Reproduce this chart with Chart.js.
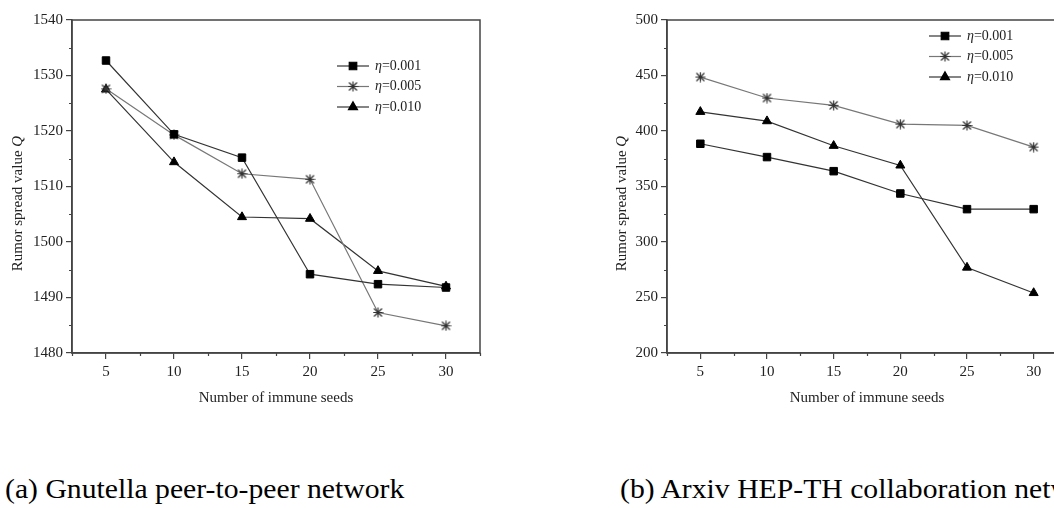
<!DOCTYPE html>
<html>
<head>
<meta charset="utf-8">
<script src="https://cdn.jsdelivr.net/npm/chart.js@4/dist/chart.umd.min.js"></script>
<style>
  html, body { margin: 0; padding: 0; background: #fff; }
  body { width: 1054px; height: 508px; position: relative; overflow: hidden; }
  canvas { position: absolute; top: 0; }
  #chartA { left: 0; }
  #chartB { left: 595px; }
  .caption { position: absolute; top: 476px; font-family: 'Liberation Serif', 'Times New Roman', serif;
    font-size: 27px; line-height: 27px; color: #000; white-space: nowrap; transform-origin: 0 0; transform: scaleX(1.1); }
</style>
</head>
<body>
<canvas id="chartA" width="500" height="420"></canvas>
<canvas id="chartB" width="492" height="420"></canvas>
<div class="caption" style="left:5px">(a) Gnutella peer-to-peer network</div>
<div class="caption" style="left:620px">(b) Arxiv HEP-TH collaboration network</div>
<script>
// data
var seeds = [5, 10, 15, 20, 25, 30];
var seriesLabels = ['η=0.001', 'η=0.005', 'η=0.010'];

var gnutella001 = [1532.7, 1519.4, 1515.2, 1494.2, 1492.4, 1491.8];
var gnutella005 = [1527.6, 1519.3, 1512.3, 1511.3, 1487.3, 1484.9];
var gnutella010 = [1527.5, 1514.4, 1504.5, 1504.2, 1494.8, 1492.0];

var arxiv001 = [388.5, 376.5, 363.8, 343.7, 329.6, 329.6];
var arxiv005 = [448.6, 429.7, 423.1, 406.2, 405.0, 385.5];
var arxiv010 = [417.3, 408.9, 386.7, 369.0, 277.0, 254.1];

var xTicks = [5, 10, 15, 20, 25, 30];
var yTicksA = [1480, 1490, 1500, 1510, 1520, 1530, 1540];
var yTicksB = [200, 250, 300, 350, 400, 450, 500];

var xTitle = 'Number of immune seeds';
var yTitle = 'Rumor spread value ';
var yTitleItalic = 'Q';

var SERIF = "'Liberation Serif', 'Times New Roman', serif";
var AXIS = '#444';

// asterisk marker
function starMarker() {
  var c = document.createElement('canvas');
  c.width = 11; c.height = 11;
  var g = c.getContext('2d');
  g.strokeStyle = '#333';
  g.lineWidth = 1.2;
  g.beginPath();
  g.moveTo(1.5, 1.5); g.lineTo(9.5, 9.5);
  g.moveTo(9.5, 1.5); g.lineTo(1.5, 9.5);
  g.moveTo(5.5, 0.5); g.lineTo(5.5, 10.5);
  g.moveTo(0.5, 5.5); g.lineTo(10.5, 5.5);
  g.stroke();
  return c;
}
var STAR = starMarker();

function toPoints(vals) {
  return seeds.map(function (s, i) { return { x: s, y: vals[i] }; });
}

var frame = {
  id: 'frame',
  afterDraw: function (chart, args, o) {
    var ctx = chart.ctx, a = chart.chartArea;
    var x = chart.scales.x, y = chart.scales.y;
    ctx.save();
    // box round the plot
    ctx.strokeStyle = AXIS;
    ctx.lineWidth = 1.5;
    ctx.strokeRect(a.left, a.top, a.right - a.left, a.bottom - a.top);

    // minor ticks
    ctx.lineWidth = 1.2;
    ctx.beginPath();
    for (var v = x.min; v <= x.max + 1e-6; v += o.xMinor) {
      if (xTicks.indexOf(v) >= 0) continue;
      var px = Math.round(x.getPixelForValue(v)) + 0.5;
      ctx.moveTo(px, a.bottom); ctx.lineTo(px, a.bottom + 3);
    }
    for (var w = y.min; w <= y.max + 1e-6; w += o.yMinor) {
      if (Math.round(w / o.yMajor) * o.yMajor === w) continue;
      var py = Math.round(y.getPixelForValue(w)) + 0.5;
      ctx.moveTo(a.left, py); ctx.lineTo(a.left - 3, py);
    }
    ctx.stroke();

    // axis titles
    ctx.fillStyle = '#222';
    ctx.textBaseline = 'middle';
    ctx.font = '15px ' + SERIF;
    ctx.textAlign = 'center';
    ctx.fillText(xTitle, (a.left + a.right) / 2, a.bottom + 45);

    ctx.save();
    ctx.translate(o.yTitleX, (a.top + a.bottom) / 2 + 17);
    ctx.rotate(-Math.PI / 2);
    ctx.font = '15px ' + SERIF;
    var w1 = ctx.measureText(yTitle).width;
    ctx.font = 'italic 15px ' + SERIF;
    var w2 = ctx.measureText(yTitleItalic).width;
    ctx.textAlign = 'left';
    ctx.font = '15px ' + SERIF;
    ctx.fillText(yTitle, -(w1 + w2) / 2, 0);
    ctx.font = 'italic 15px ' + SERIF;
    ctx.fillText(yTitleItalic, -(w1 + w2) / 2 + w1, 0);
    ctx.restore();

    // legend
    var lx = a.right - o.legendRight;
    chart.data.datasets.forEach(function (ds, i) {
      var ly = a.top + o.legendTop + i * 20.5;
      ctx.strokeStyle = ds.borderColor;
      ctx.lineWidth = 1.2;
      ctx.beginPath();
      ctx.moveTo(lx, ly); ctx.lineTo(lx + 32, ly);
      ctx.stroke();
      ctx.fillStyle = ds.pointBackgroundColor;
      ctx.strokeStyle = ds.pointBorderColor;
      Chart.helpers.drawPoint(ctx, { pointStyle: ds.pointStyle, radius: ds.pointRadius, rotation: 0, borderWidth: 1 }, lx + 16, ly);
      ctx.fillStyle = '#222';
      ctx.textAlign = 'left';
      ctx.font = 'italic 14px ' + SERIF;
      ctx.fillText(ds.label.charAt(0), lx + 38, ly);
      var ew = ctx.measureText(ds.label.charAt(0)).width;
      ctx.font = '14px ' + SERIF;
      ctx.fillText(ds.label.slice(1), lx + 38 + ew, ly);
    });
    ctx.restore();
  }
};

function makeChart(id, series, yTicks, frameOpts) {
  var styles = [
    { line: '#333', fill: '#000', style: 'rect', r: 5.3 },
    { line: '#777', fill: '#333', style: STAR, r: 5 },
    { line: '#333', fill: '#000', style: 'triangle', r: 5.2 }
  ];
  var datasets = series.map(function (vals, i) {
    var s = styles[i];
    return {
      label: seriesLabels[i],
      data: toPoints(vals),
      borderColor: s.line,
      borderWidth: 1.2,
      pointStyle: s.style,
      pointRadius: s.r,
      pointBackgroundColor: s.fill,
      pointBorderColor: s.fill,
      pointBorderWidth: 1,
      tension: 0
    };
  });
  return new Chart(document.getElementById(id), {
    type: 'line',
    data: { datasets: datasets },
    plugins: [frame],
    options: {
      responsive: false,
      animation: false,
      devicePixelRatio: 1,
      layout: { padding: { left: 0, top: 20, right: 20, bottom: 0 } },
      plugins: { legend: { display: false }, tooltip: { enabled: false }, frame: frameOpts },
      scales: {
        x: {
          type: 'linear',
          min: 2.5, max: 32.5,
          afterBuildTicks: function (s) { s.ticks = xTicks.map(function (v) { return { value: v }; }); },
          afterFit: function (s) { s.height = 67; },
          grid: { drawOnChartArea: false, tickLength: 6, color: AXIS, lineWidth: 1.2 },
          border: { color: AXIS, width: 1.5 },
          ticks: { color: '#222', padding: 4, font: { family: SERIF, size: 15 },
            callback: function (v) { return String(v); } }
        },
        y: {
          type: 'linear',
          min: yTicks[0], max: yTicks[yTicks.length - 1],
          afterBuildTicks: function (s) { s.ticks = yTicks.map(function (v) { return { value: v }; }); },
          afterFit: function (s) { s.width = 72; },
          grid: { drawOnChartArea: false, tickLength: 6, color: AXIS, lineWidth: 1.2 },
          border: { color: AXIS, width: 1.5 },
          ticks: { color: '#222', padding: 3, font: { family: SERIF, size: 15 },
            callback: function (v) { return String(v); } }
        }
      }
    }
  });
}

makeChart('chartA', [gnutella001, gnutella005, gnutella010], yTicksA,
  { xMinor: 2.5, yMinor: 5, yMajor: 10, yTitleX: 18, legendRight: 143, legendTop: 46 });
makeChart('chartB', [arxiv001, arxiv005, arxiv010], yTicksB,
  { xMinor: 2.5, yMinor: 25, yMajor: 50, yTitleX: 27, legendRight: 138, legendTop: 16 });
</script>
</body>
</html>
